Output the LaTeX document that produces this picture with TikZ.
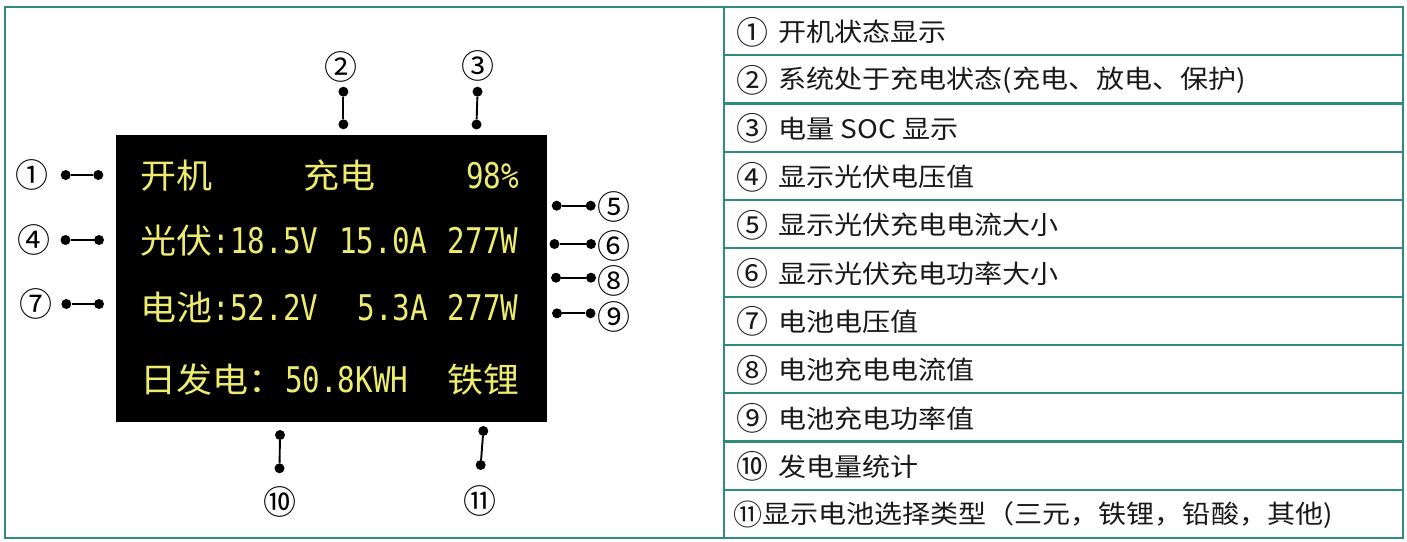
\documentclass[tikz,border=0pt]{standalone}
\usepackage{graphicx}
\usepackage{fontspec}
\setmainfont{Noto Sans CJK SC}
\newfontfamily\cjk{Noto Sans CJK SC}
\newfontfamily\monof{DejaVu Sans Mono}
\definecolor{teal0}{RGB}{46,139,126}
\definecolor{scrY}{RGB}{238,236,110}
\definecolor{txt}{RGB}{25,25,25}
\newcommand\cjkw[1]{\scalebox{1.06}[1]{#1}}
\newcommand\ascw[1]{\scalebox{0.86}[1.04]{#1}}
\newcommand\tabw[1]{\scalebox{1.1}[1]{#1}}
\tikzset{
  frame/.style={draw=teal0, line width=2.2pt},
  dotend/.style={circle, fill=black, inner sep=0pt, minimum size=10pt},
  link/.style={draw=black, line width=1.9pt},
  callout/.style={inner sep=0pt, text=black, font=\cjk\fontsize{33}{33}\selectfont},
  scrcjk/.style={anchor=base west, inner sep=0pt, text=scrY, font=\cjk\fontsize{34}{34}\selectfont},
  scrasc/.style={anchor=base west, inner sep=0pt, text=scrY, font=\monof\fontsize{34}{34}\selectfont},
  cell/.style={anchor=west, inner sep=0pt, text=txt, font=\cjk\fontsize{25.5}{25.5}\selectfont},
  num/.style={anchor=center, inner sep=0pt, text=txt, font=\cjk\fontsize{32}{32}\selectfont},
}
\begin{document}
\begin{tikzpicture}[x=1pt,y=-1pt]
\useasboundingbox (0,0) rectangle (1407,541);
% frames
\draw[frame] (5,7) rectangle (1403,538);
\draw[frame] (724,7) -- (724,538);
\foreach \i in {1,...,10} {
  \draw[frame] (724,{7+48.27*\i}) -- (1403,{7+48.27*\i});
}
% screen
\fill[black] (116,135) rectangle (546.5,422);
% screen text (cell = 18.1)
\node[scrcjk] (s1a) at (140,188.5) {\cjkw{开机}};
\node[scrcjk] (s1b) at ({140+9*18.1},188.5) {\cjkw{充电}};
\node[scrasc] (s1c) at ({140+18*18.1},188.5) {\ascw{98\%}};
\node[scrcjk] (s2a) at (140,253) {\cjkw{光伏}};
\node[scrasc] (s2b) at ({140+4*18.1},253) {\ascw{:18.5V}};
\node[scrasc] (s2c) at ({140+11*18.1},253) {\ascw{15.0A}};
\node[scrasc] (s2d) at ({140+17*18.1},253) {\ascw{277W}};
\node[scrcjk] (s3a) at (140,320) {\cjkw{电池}};
\node[scrasc] (s3b) at ({140+4*18.1},320) {\ascw{:52.2V}};
\node[scrasc] (s3c) at ({140+12*18.1},320) {\ascw{5.3A}};
\node[scrasc] (s3d) at ({140+17*18.1},320) {\ascw{277W}};
\node[scrcjk] (s4a) at (140,392) {\cjkw{日发电：}};
\node[scrasc] (s4b) at ({140+8*18.1},392) {\ascw{50.8KWH}};
\node[scrcjk] (s4c) at ({140+17*18.1},392) {\cjkw{铁锂}};
% callouts left
\node[callout] (c1) at (32.5,175) {①};
\node[dotend] (d1a) at (65.7,175) {};
\node[dotend] (d1b) at (98.3,175) {};
\draw[link] (d1a) -- (d1b);
\node[callout] (c4) at (34,240) {④};
\node[dotend] (d4a) at (65.5,240) {};
\node[dotend] (d4b) at (99,240) {};
\draw[link] (d4a) -- (d4b);
\node[callout] (c7) at (36,304) {⑦};
\node[dotend] (d7a) at (66.3,304) {};
\node[dotend] (d7b) at (99,304) {};
\draw[link] (d7a) -- (d7b);
% callouts right
\node[dotend] (d5a) at (556.7,205.7) {};
\node[dotend] (d5b) at (590.7,205.7) {};
\draw[link] (d5a) -- (d5b);
\node[callout] (c5) at (613.5,207) {⑤};
\node[dotend] (d6a) at (554.5,244) {};
\node[dotend] (d6b) at (591,244) {};
\draw[link] (d6a) -- (d6b);
\node[callout] (c6) at (614,246) {⑥};
\node[dotend] (d8a) at (556,277.7) {};
\node[dotend] (d8b) at (591,277.7) {};
\draw[link] (d8a) -- (d8b);
\node[callout] (c8) at (614,281) {⑧};
\node[dotend] (d9a) at (557,313.3) {};
\node[dotend] (d9b) at (590.5,313.3) {};
\draw[link] (d9a) -- (d9b);
\node[callout] (c9) at (613.5,317) {⑨};
% callouts top
\node[callout] (c2) at (341,66.7) {②};
\node[dotend] (d2a) at (343.4,91.7) {};
\node[dotend] (d2b) at (343.4,124.3) {};
\draw[link] (d2a) -- (d2b);
\node[callout] (c3) at (477.5,66) {③};
\node[dotend] (d3a) at (477.5,91.7) {};
\node[dotend] (d3b) at (476.5,124.5) {};
\draw[link] (d3a) -- (d3b);
% callouts bottom
\node[dotend] (d10a) at (280,435) {};
\node[dotend] (d10b) at (279.5,468.3) {};
\draw[link] (d10a) -- (d10b);
\node[callout] (c10) at (280,501.7) {⑩};
\node[dotend] (d11a) at (483.3,431) {};
\node[dotend] (d11b) at (480.7,465) {};
\draw[link] (d11a) -- (d11b);
\node[callout] (c11) at (480,501) {⑪};
% table text
\foreach \n/\t [count=\i] in {①/开机状态显示, ②/系统处于充电状态(充电、放电、保护), ③/电量 SOC 显示, ④/显示光伏电压值, ⑤/显示光伏充电电流大小, ⑥/显示光伏充电功率大小, ⑦/电池电压值, ⑧/电池充电电流值, ⑨/电池充电功率值, ⑩/发电量统计} {
  \node[num] (n\i) at (752,{7+48.27*(\i-0.5)+1}) {\n};
  \node[cell] (t\i) at (778,{7+48.27*(\i-0.5)+1}) {\tabw{\t}};
}
\node[num, font=\cjk\fontsize{29}{29}\selectfont] (n11) at (748,{7+48.27*10.5+1}) {⑪};
\node[cell] (t11) at (762,{7+48.27*10.5+1}) {\tabw{显示电池选择类型（三元，铁锂，铅酸，其他)}};
\end{tikzpicture}
\end{document}
